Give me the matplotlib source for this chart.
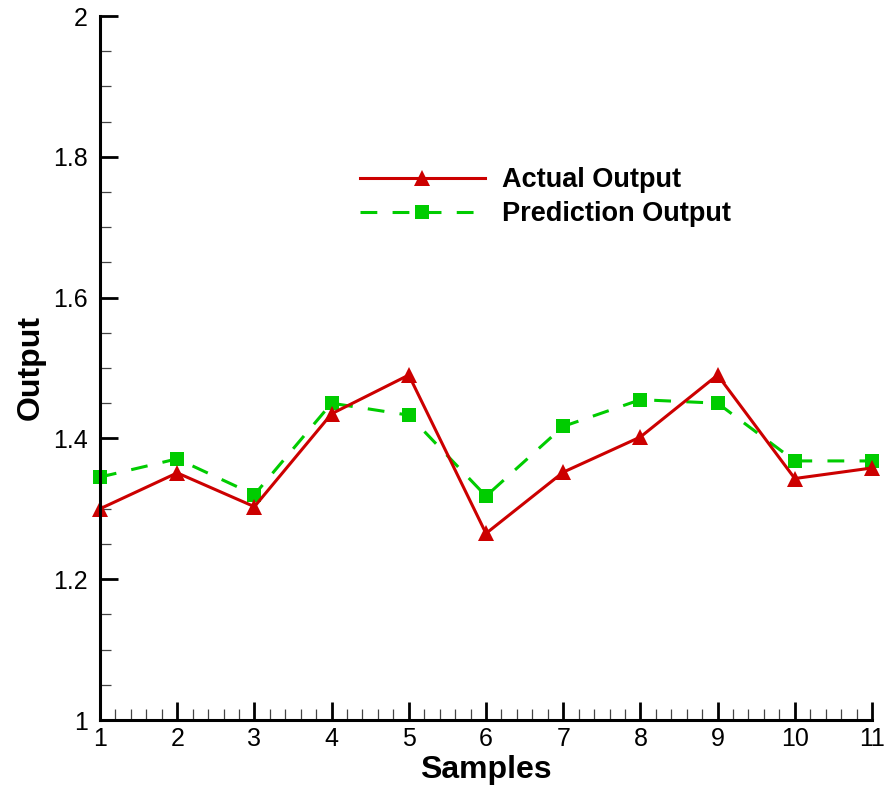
import matplotlib
matplotlib.use("Agg")
import matplotlib.pyplot as plt
from matplotlib.ticker import AutoMinorLocator
import numpy as np

plt.rcParams['font.family'] = ['Liberation Sans', 'DejaVu Sans']

samples = [1, 2, 3, 4, 5, 6, 7, 8, 9, 10, 11]
actual = [1.300, 1.351, 1.303, 1.435, 1.490, 1.265, 1.352, 1.402, 1.490, 1.343, 1.358]
predicted = [1.345, 1.371, 1.320, 1.450, 1.433, 1.318, 1.417, 1.455, 1.450, 1.368, 1.368]
y_ticks = [1.0, 1.2, 1.4, 1.6, 1.8, 2.0]
y_ticklabels = ["1", "1.2", "1.4", "1.6", "1.8", "2"]

red = "#cc0000"
green = "#00cc00"

fig = plt.figure(figsize=(8.86, 7.85), dpi=100)
ax = fig.add_axes([100/886, 1-720/785, 772/886, 704/785])

l2, = ax.plot(samples, predicted, color=green, lw=2.2, dashes=(5.5, 5),
              marker="s", markersize=10, markeredgewidth=0, clip_on=False,
              label="Prediction Output")
l1, = ax.plot(samples, actual, color=red, lw=2.2, marker="^", markersize=11,
              markeredgewidth=0, clip_on=False, label="Actual Output")

ax.set_xlim(1, 11)
ax.set_ylim(1, 2)
ax.set_xticks(samples)
ax.set_yticks(y_ticks)
ax.set_yticklabels(y_ticklabels)
ax.xaxis.set_minor_locator(AutoMinorLocator(5))
ax.yaxis.set_minor_locator(AutoMinorLocator(4))

for s in ["top", "right"]:
    ax.spines[s].set_visible(False)
for s in ["left", "bottom"]:
    ax.spines[s].set_linewidth(2.2)

ax.tick_params(which="major", direction="in", length=13, width=2, labelsize=18)
ax.tick_params(which="minor", direction="in", length=8, width=0.9, color="#444444")
ax.tick_params(axis="x", which="major", pad=5)
ax.tick_params(axis="y", which="major", pad=9)

ax.set_xlabel("Samples", fontsize=23, fontweight="bold", labelpad=3)
ax.set_ylabel("Output", fontsize=23, fontweight="bold", labelpad=5)

leg = ax.legend(handles=[l1, l2], loc="upper left", bbox_to_anchor=(360/886, 1-167/785),
                bbox_transform=fig.transFigure, frameon=False,
                prop={"weight": "bold", "size": 19.5}, handlelength=4.6,
                handletextpad=0.65, numpoints=1, borderpad=0, borderaxespad=0,
                labelspacing=0.3)

fig.savefig("out.png", dpi=100)
